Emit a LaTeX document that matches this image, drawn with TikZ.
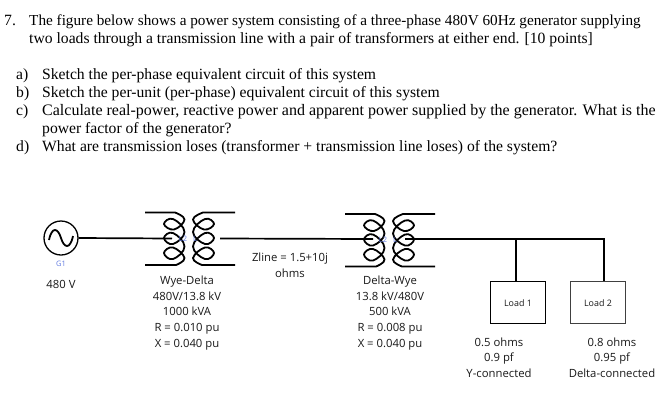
\documentclass[tikz,border=0pt]{standalone}
\usepackage{fontspec}
\setmainfont{Liberation Serif}
\newfontfamily\lblfont{Open Sans}
\newcommand{\xfmrdraw}[2]{%
 \begin{scope}[shift={(#1,#2)}]
 \draw[coil] (0,0) -- plot[smooth,tension=0.75] coordinates {(30,0) (39.5,7) (29,17) (19,11.5) (28,6.5) (39.5,19.5) (28,31.5) (19,25.5) (28,20.5) (39.5,34) (28,46.5) (19,40.5) (28,35) (39.5,45.5) (31,52.5)} -- (0,52.5);
 \draw[coil] (90,0) -- plot[smooth,tension=0.75] coordinates {(58,0) (48,7) (59,17) (69,11.5) (60,6.5) (48,19.5) (60,31.5) (69,25.5) (60,20.5) (48,34) (60,46.5) (69,40.5) (60,35) (48,45.5) (57,52.5)} -- (90,52.5);
 \end{scope}}
\begin{document}
\begin{tikzpicture}[x=1pt,y=-1pt,
  body/.style={anchor=base west,inner sep=0pt,font=\fontsize{15.65}{17}\selectfont},
  lbl/.style={anchor=base,inner sep=0pt,font=\lblfont\fontsize{11.3}{13}\selectfont,text=black!90},
  tinyblue/.style={anchor=base,inner sep=0pt,font=\lblfont\fontsize{7.5}{8}\selectfont,text={rgb,255:red,100;green,125;blue,225}},
  wire/.style={draw=black,line width=1.7pt},
  drop/.style={draw=black,line width=2pt},
  coil/.style={draw=black,line width=1.8pt},
  loadbox/.style={draw=black,line width=1pt,minimum width=55pt,minimum height=42pt,inner sep=0pt}]
\useasboundingbox (0,0) rectangle (669,402);
\fill[white] (0,0) rectangle (669,402);
% question text
\node[body] (n7) at (4,25) {7.};
\node[body,font=\fontsize{15.23}{17}\selectfont] (l1) at (29,25) {The figure below shows a power system consisting of a three-phase 480V 60Hz generator supplying};
\node[body] (l2) at (29,43) {two loads through a transmission line with a pair of transformers at either end. [10 points]};
\node[body] (am) at (16,79) {a)};
\node[body] (a) at (42,79) {Sketch the per-phase equivalent circuit of this system};
\node[body] (bm) at (16,97) {b)};
\node[body] (b) at (42,97) {Sketch the per-unit (per-phase) equivalent circuit of this system};
\node[body] (cm) at (16,115) {c)};
\node[body,font=\fontsize{16}{17}\selectfont] (c) at (42,115) {Calculate real-power, reactive power and apparent power supplied by the generator. What is the};
\node[body] (c2) at (42,133) {power factor of the generator?};
\node[body] (dm) at (16,151) {d)};
\node[body] (d) at (42,151) {What are transmission loses (transformer + transmission line loses) of the system?};
% generator
\node[circle,draw=black,line width=1.3pt,minimum size=34pt,inner sep=0pt] (g) at (61,238) {};
\draw[black,line width=1.8pt] (49,240) .. controls (52,226) and (58,228) .. (61,238) .. controls (64,248) and (70,250) .. (73,236);
\node[tinyblue] (g1) at (61,266) {G1};
\node[lbl] (v) at (61,288) {480 V};
% transformers
\xfmrdraw{145}{212.5}
\xfmrdraw{345}{214}
\coordinate (t1l) at (172,238.5);
\coordinate (t1r) at (220,238.5);
\coordinate (t2l) at (373,239);
\coordinate (t2r) at (405,239);
\node[tinyblue] (s1) at (183,241.5) {L2};
\node[tinyblue] (s2) at (195,241.5) {L};
\node[tinyblue] (s3) at (383,242) {L2};
\node[tinyblue] (s4) at (395,242) {L};
\draw[wire] (g.east) -- (t1l);
\draw[wire] (t1r) -- (t2l);
% loads
\node[loadbox] (L1) at (518,302) {};
\node[loadbox,draw=black!75] (L2) at (598,302) {};
\node[lbl,font=\lblfont\fontsize{8.9}{10}\selectfont] (L1t) at (518,306) {Load 1};
\node[lbl,font=\lblfont\fontsize{8.9}{10}\selectfont] (L2t) at (598,306) {Load 2};
\coordinate (j1) at (516,239);
\coordinate (j2) at (604,239);
\coordinate (d1) at (516,281);
\coordinate (d2) at (604,281);
\draw[wire] (t2r) -- (j1) -- (j2) -- (d2);
\draw[drop] (j1) -- (d1);
% labels
\node[lbl] (w1) at (187,284.5) {Wye-Delta};
\node[lbl] (w2) at (187,300) {480V/13.8 kV};
\node[lbl] (w3) at (187,315.5) {1000 kVA};
\node[lbl] (w4) at (187,331) {R = 0.010 pu};
\node[lbl] (w5) at (187,347) {X = 0.040 pu};
\node[lbl] (z1) at (290,261) {Zline = 1.5+10j};
\node[lbl] (z2) at (290,277) {ohms};
\node[lbl] (dw1) at (390,284.5) {Delta-Wye};
\node[lbl] (dw2) at (390,300) {13.8 kV/480V};
\node[lbl] (dw3) at (390,315.5) {500 kVA};
\node[lbl] (dw4) at (390,331) {R = 0.008 pu};
\node[lbl] (dw5) at (390,347) {X = 0.040 pu};
\node[lbl] (a1) at (499,346) {0.5 ohms};
\node[lbl] (a2) at (499,361.5) {0.9 pf};
\node[lbl] (a3) at (499,377) {Y-connected};
\node[lbl] (b1) at (612,346) {0.8 ohms};
\node[lbl] (b2) at (612,361.5) {0.95 pf};
\node[lbl] (b3) at (612,377) {Delta-connected};
\end{tikzpicture}
\end{document}
